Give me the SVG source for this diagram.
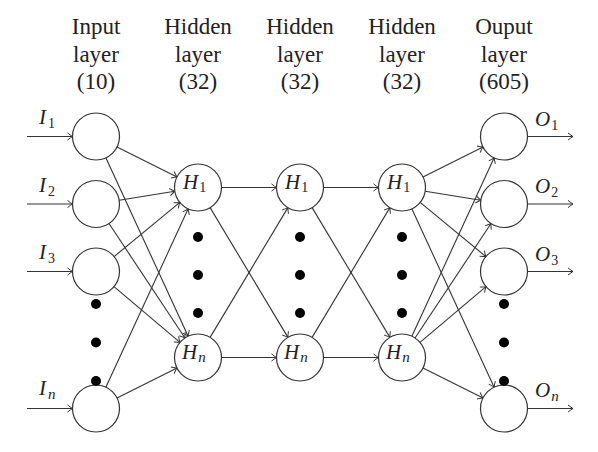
<svg xmlns="http://www.w3.org/2000/svg" width="598" height="452" viewBox="0 0 598 452">
<defs>
<marker id="arr" markerUnits="userSpaceOnUse" markerWidth="10" markerHeight="10" refX="0" refY="0" orient="auto" viewBox="-6 -5 7 10" overflow="visible">
<path d="M-5,-3.6 Q-1.6,-0.9 0,0 Q-1.6,0.9 -5,3.6" fill="none" stroke="#333" stroke-width="1"/>
</marker>
</defs>
<style>
.hdr{font-family:'Liberation Serif','DejaVu Serif',serif;font-size:23px;fill:#222;text-anchor:middle}
.m{font-family:'Liberation Serif','DejaVu Serif',serif;font-style:italic;font-size:21px;fill:#222}
.s{font-family:'Liberation Serif','DejaVu Serif',serif;font-size:14px;fill:#222;font-style:normal}
.si{font-family:'Liberation Serif','DejaVu Serif',serif;font-size:15px;fill:#222;font-style:italic}
.node{fill:#fff;stroke:#333;stroke-width:1.2}
.dot{fill:#000}
#connectors line{stroke:#333;stroke-width:1.1;marker-end:url(#arr)}
</style>
<rect width="598" height="452" fill="#fff"/>
<g id="headers" font-family="Liberation Serif, serif">
<text class="hdr" x="96" y="34">Input</text><text class="hdr" x="96" y="62">layer</text><text class="hdr" x="96" y="89">(10)</text>
<text class="hdr" x="198" y="34">Hidden</text><text class="hdr" x="198" y="62">layer</text><text class="hdr" x="198" y="89">(32)</text>
<text class="hdr" x="300" y="34">Hidden</text><text class="hdr" x="300" y="62">layer</text><text class="hdr" x="300" y="89">(32)</text>
<text class="hdr" x="402" y="34">Hidden</text><text class="hdr" x="402" y="62">layer</text><text class="hdr" x="402" y="89">(32)</text>
<text class="hdr" x="504" y="34">Ouput</text><text class="hdr" x="504" y="62">layer</text><text class="hdr" x="504" y="89">(605)</text>
</g>
<g id="connectors">
<line x1="27" y1="136.5" x2="72.5" y2="136.5"/>
<line x1="27" y1="204" x2="72.5" y2="204"/>
<line x1="27" y1="271.5" x2="72.5" y2="271.5"/>
<line x1="27" y1="408.5" x2="72.5" y2="408.5"/>
<line x1="117.02" y1="147.01" x2="176.98" y2="176.99"/>
<line x1="119.2" y1="200.25" x2="174.8" y2="191.25"/>
<line x1="114.14" y1="256.56" x2="179.86" y2="202.44"/>
<line x1="105.85" y1="387.16" x2="188.15" y2="208.84"/>
<line x1="105.85" y1="157.84" x2="188.15" y2="336.16"/>
<line x1="109.01" y1="223.57" x2="184.99" y2="337.93"/>
<line x1="113.97" y1="286.65" x2="180.03" y2="342.35"/>
<line x1="117.02" y1="397.99" x2="176.98" y2="368.01"/>
<line x1="221.5" y1="187.5" x2="276.5" y2="187.5"/>
<line x1="210.09" y1="207.65" x2="287.91" y2="337.35"/>
<line x1="210.09" y1="337.35" x2="287.91" y2="207.65"/>
<line x1="221.5" y1="357.5" x2="276.5" y2="357.5"/>
<line x1="323.5" y1="187.5" x2="378.5" y2="187.5"/>
<line x1="312.09" y1="207.65" x2="389.91" y2="337.35"/>
<line x1="312.09" y1="337.35" x2="389.91" y2="207.65"/>
<line x1="323.5" y1="357.5" x2="378.5" y2="357.5"/>
<line x1="423.02" y1="176.99" x2="482.98" y2="147.01"/>
<line x1="425.2" y1="191.25" x2="480.8" y2="200.25"/>
<line x1="420.14" y1="202.44" x2="485.86" y2="256.56"/>
<line x1="411.85" y1="208.84" x2="494.15" y2="387.16"/>
<line x1="411.85" y1="336.16" x2="494.15" y2="157.84"/>
<line x1="415.01" y1="337.93" x2="490.99" y2="223.57"/>
<line x1="419.97" y1="342.35" x2="486.03" y2="286.65"/>
<line x1="423.02" y1="368.01" x2="482.98" y2="397.99"/>
<line x1="527.5" y1="136.5" x2="573" y2="136.5"/>
<line x1="527.5" y1="204" x2="573" y2="204"/>
<line x1="527.5" y1="271.5" x2="573" y2="271.5"/>
<line x1="527.5" y1="408.5" x2="573" y2="408.5"/>
</g>
<g id="input-labels">
<text class="m" x="39" y="124">I<tspan class="s" dx="2" dy="4">1</tspan></text>
<text class="m" x="39" y="192">I<tspan class="s" dx="2" dy="4">2</tspan></text>
<text class="m" x="39" y="259">I<tspan class="s" dx="2" dy="4">3</tspan></text>
<text class="m" x="39" y="395">I<tspan class="si" dx="2" dy="4">n</tspan></text>
</g>
<g id="output-labels">
<text class="m" x="535" y="126">O<tspan class="s" dx="1" dy="4">1</tspan></text>
<text class="m" x="535" y="193">O<tspan class="s" dx="1" dy="4">2</tspan></text>
<text class="m" x="535" y="261">O<tspan class="s" dx="1" dy="4">3</tspan></text>
<text class="m" x="535" y="397">O<tspan class="si" dx="1" dy="4">n</tspan></text>
</g>
<g id="I1"><circle class="node" cx="96" cy="136.5" r="23.5"/></g>
<g id="I2"><circle class="node" cx="96" cy="204" r="23.5"/></g>
<g id="I3"><circle class="node" cx="96" cy="271.5" r="23.5"/></g>
<g id="In"><circle class="node" cx="96" cy="408.5" r="23.5"/></g>
<g id="input-dots"><circle class="dot" cx="96" cy="304" r="5"/><circle class="dot" cx="96" cy="342.5" r="5"/><circle class="dot" cx="96" cy="381" r="5"/></g>
<g id="A-H1"><circle class="node" cx="198" cy="187.5" r="23.5"/><text class="m" x="183" y="189">H<tspan class="s" dx="1" dy="3">1</tspan></text></g>
<g id="A-Hn"><circle class="node" cx="198" cy="357.5" r="23.5"/><text class="m" x="182" y="359">H<tspan class="si" dx="1" dy="3">n</tspan></text></g>
<g id="A-dots"><circle class="dot" cx="198" cy="237" r="5"/><circle class="dot" cx="198" cy="275" r="5"/><circle class="dot" cx="198" cy="313" r="5"/></g>
<g id="B-H1"><circle class="node" cx="300" cy="187.5" r="23.5"/><text class="m" x="285" y="189">H<tspan class="s" dx="1" dy="3">1</tspan></text></g>
<g id="B-Hn"><circle class="node" cx="300" cy="357.5" r="23.5"/><text class="m" x="284" y="359">H<tspan class="si" dx="1" dy="3">n</tspan></text></g>
<g id="B-dots"><circle class="dot" cx="300" cy="237" r="5"/><circle class="dot" cx="300" cy="275" r="5"/><circle class="dot" cx="300" cy="313" r="5"/></g>
<g id="C-H1"><circle class="node" cx="402" cy="187.5" r="23.5"/><text class="m" x="387" y="189">H<tspan class="s" dx="1" dy="3">1</tspan></text></g>
<g id="C-Hn"><circle class="node" cx="402" cy="357.5" r="23.5"/><text class="m" x="386" y="359">H<tspan class="si" dx="1" dy="3">n</tspan></text></g>
<g id="C-dots"><circle class="dot" cx="402" cy="237" r="5"/><circle class="dot" cx="402" cy="275" r="5"/><circle class="dot" cx="402" cy="313" r="5"/></g>
<g id="O1"><circle class="node" cx="504" cy="136.5" r="23.5"/></g>
<g id="O2"><circle class="node" cx="504" cy="204" r="23.5"/></g>
<g id="O3"><circle class="node" cx="504" cy="271.5" r="23.5"/></g>
<g id="On"><circle class="node" cx="504" cy="408.5" r="23.5"/></g>
<g id="output-dots"><circle class="dot" cx="504" cy="304" r="5"/><circle class="dot" cx="504" cy="342.5" r="5"/><circle class="dot" cx="504" cy="381" r="5"/></g>
</svg>
